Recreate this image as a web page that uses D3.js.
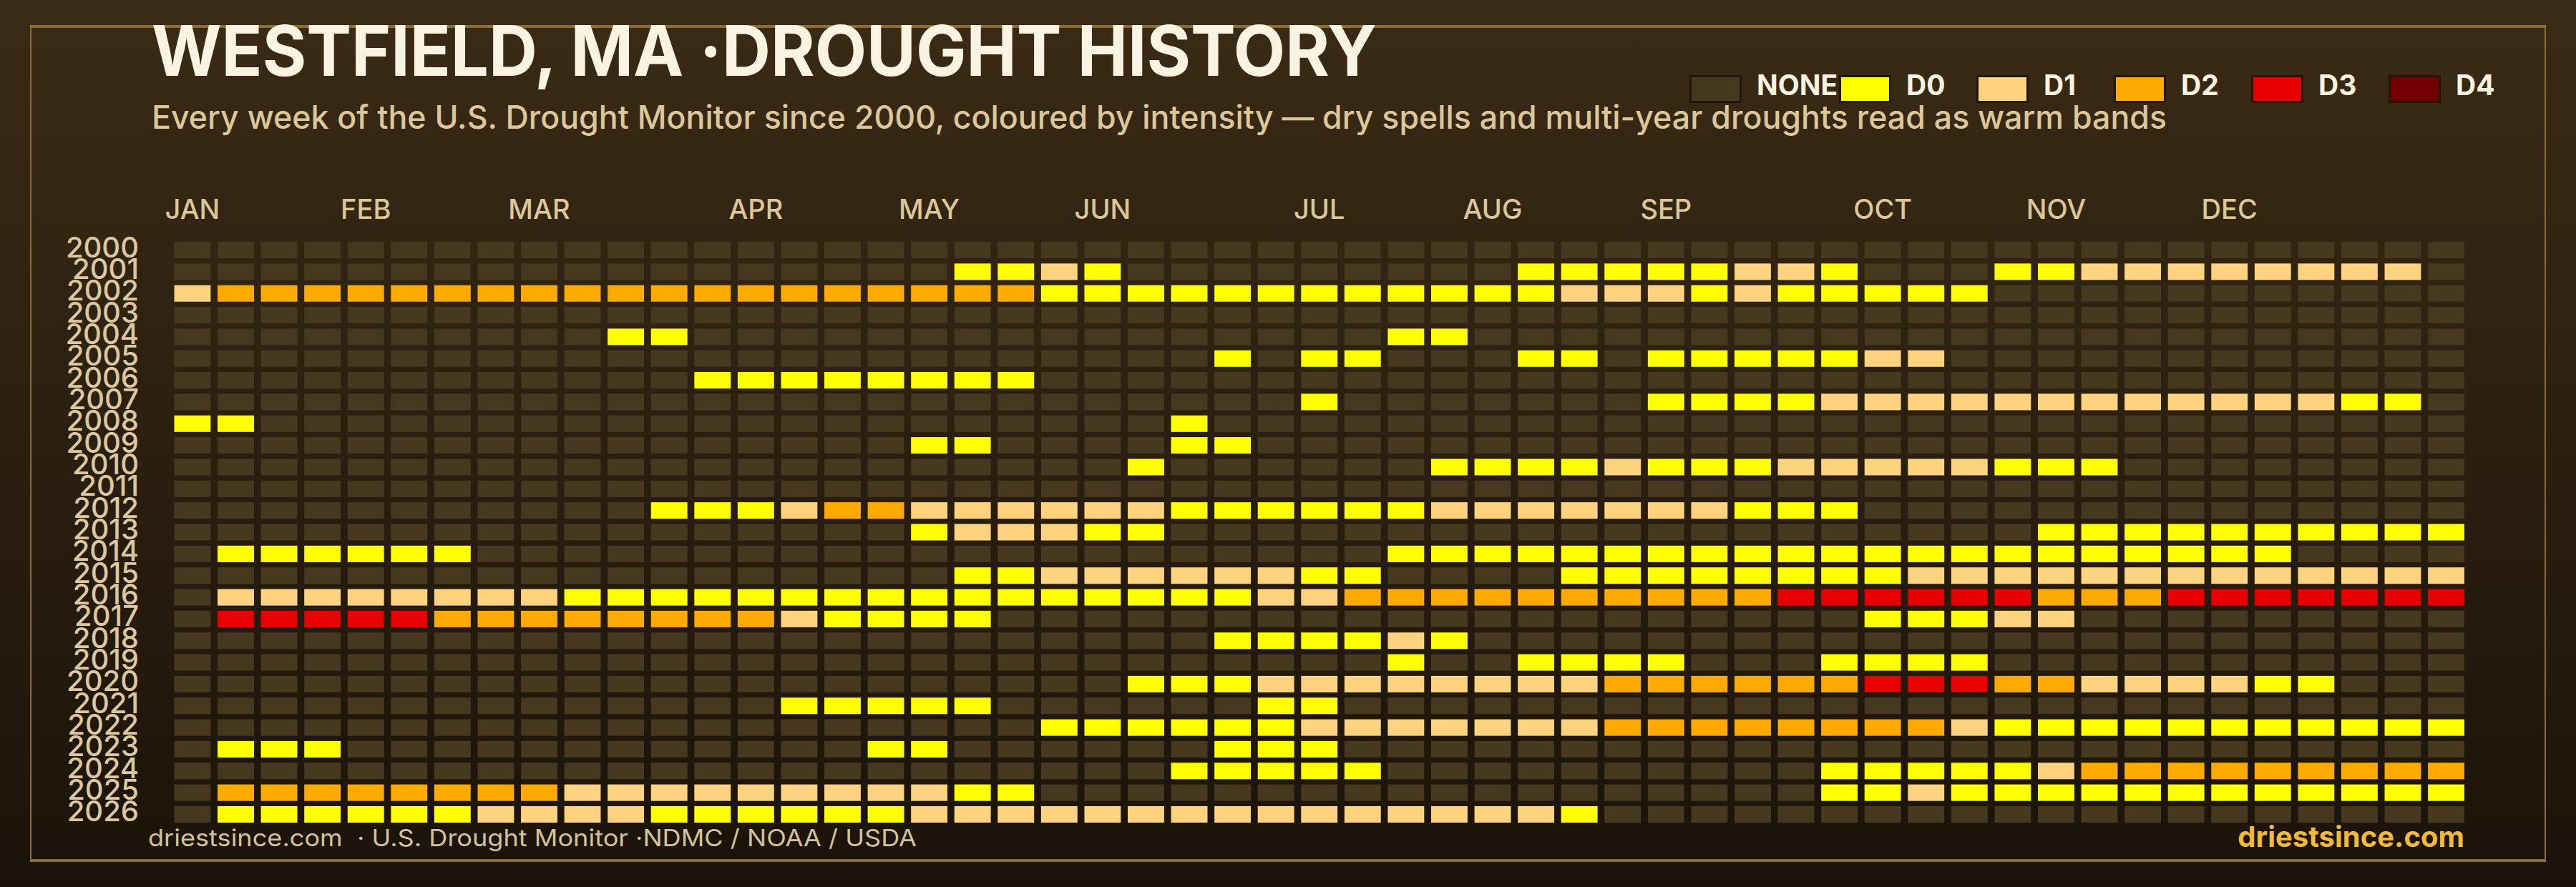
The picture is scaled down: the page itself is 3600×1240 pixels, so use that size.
<!DOCTYPE html>
<html>
<head>
<meta charset="utf-8">
<script src="https://cdn.jsdelivr.net/npm/d3@7/dist/d3.min.js"></script>
<style>
  html, body { margin: 0; padding: 0; background: #1b130a; }
  svg { display: block; }
</style>
</head>
<body>
<svg id="chart" width="3600" height="1240"></svg>
<script>
// ---------- DATA ----------
const years = ["2000","2001","2002","2003","2004","2005","2006","2007","2008","2009",
  "2010","2011","2012","2013","2014","2015","2016","2017","2018","2019",
  "2020","2021","2022","2023","2024","2025","2026"];

// one character per week (53 weeks): "." none, "0".."4" = D0..D4 (groups of 10 separated by spaces)
const weekly = [
  ".......... .......... .......... .......... .......... ...", // 2000
  ".......... ........00 10........ .00000110. ..00111111 11.", // 2001
  "1222222222 2222222222 0000000000 0011101000 00........ ...", // 2002
  ".......... .......... .......... .......... .......... ...", // 2003
  ".......... 00........ ........00 .......... .......... ...", // 2004
  ".......... .......... ....0.00.. .00.000001 1......... ...", // 2005
  ".......... ..00000000 .......... .......... .......... ...", // 2006
  ".......... .......... ......0... ....000011 1111111111 00.", // 2007
  "00........ .......... ...0...... .......... .......... ...", // 2008
  ".......... .......00. ...00..... .......... .......... ...", // 2009
  ".......... .......... ..0......0 0001000111 11000..... ...", // 2010
  ".......... .......... .......... .......... .......... ...", // 2011
  ".......... .000122111 1110000001 111111000. .......... ...", // 2012
  ".......... .......011 100....... .......... ...0000000 000", // 2013
  ".000000... .......... ........00 0000000000 000000000. ...", // 2014
  ".......... ........00 11111100.. ..00000000 1111111111 111", // 2015
  ".111111110 0000000000 0000011222 2222222333 3332223333 333", // 2016
  ".333332222 222210000. .......... .........0 0011...... ...", // 2017
  ".......... .......... ....000010 .......... .......... ...", // 2018
  ".......... .......... ........0. .0000...00 00........ ...", // 2019
  ".......... .......... ..00011111 1112222223 3322111100 ...", // 2020
  ".......... ....00000. .....00... .......... .......... ...", // 2021
  ".......... .......... 0000001111 1112222222 2100000000 000", // 2022
  ".000...... ......00.. ....000... .......... .......... ...", // 2023
  ".......... .......... ...00000.. ........00 0001222222 222", // 2024
  ".222222221 1111111100 .......... ........00 1000000000 000", // 2025
  ".000000111 1000000111 1111111111 110....... .......... ..."  // 2026
];

const monthLabels = ["JAN","FEB","MAR","APR","MAY","JUN","JUL","AUG","SEP","OCT","NOV","DEC"];
const monthWeek   = [0, 4, 8, 13, 17, 21, 26, 30, 34, 39, 43, 47];

const levelNames  = ["NONE","D0","D1","D2","D3","D4"];
const levelCodes  = [".","0","1","2","3","4"];
const levelColors = ["#47391f","#ffff00","#fdd37f","#ffaa00","#e60000","#730000"];

const titleText = "WESTFIELD, MA \u00b7DROUGHT HISTORY";
const subtitleText = "Every week of the U.S. Drought Monitor since 2000, coloured by intensity \u2014 dry spells and multi-year droughts read as warm bands";
const sourceText = "driestsince.com  \u00b7 U.S. Drought Monitor \u00b7NDMC / NOAA / USDA";
const brandText = "driestsince.com";

// ---------- BUILD ----------
const cells = [];
years.forEach((yr, r) => {
  const s = weekly[r].replace(/ /g, "");
  for (let w = 0; w < s.length; w++) cells.push({ year: yr, week: w, code: s[w] });
});
const weeks = d3.range(53);

const svg = d3.select("#chart");
const W = 3600, H = 1240;
const FONT = "Inter, 'Open Sans', 'DejaVu Sans', sans-serif";

const defs = svg.append("defs");
const grad = defs.append("linearGradient").attr("id", "bg").attr("x1", 0).attr("y1", 0).attr("x2", 0).attr("y2", 1);
grad.append("stop").attr("offset", "0%").attr("stop-color", "#3a2b15");
grad.append("stop").attr("offset", "100%").attr("stop-color", "#1b130a");
svg.append("rect").attr("width", W).attr("height", H).attr("fill", "url(#bg)");

// frame
const frameColor = "#8b6d36";
svg.append("rect").attr("x", 43).attr("y", 37).attr("width", 3514).attr("height", 1166)
  .attr("fill", "none").attr("stroke", frameColor).attr("stroke-width", 2);
svg.append("rect").attr("x", 42).attr("y", 35).attr("width", 3516).attr("height", 4).attr("fill", frameColor);
svg.append("rect").attr("x", 42).attr("y", 1201).attr("width", 3516).attr("height", 4).attr("fill", frameColor);

// scales
const x = d3.scaleBand().domain(weeks).range([243.5, 3444]).paddingInner(0.16).paddingOuter(0);
const y = d3.scaleBand().domain(years).range([338, 1150]).paddingInner(0.24).paddingOuter(0);
const color = d3.scaleOrdinal().domain(levelCodes).range(levelColors);

// cells
svg.append("g").selectAll("rect").data(cells).join("rect")
  .attr("x", d => x(d.week))
  .attr("y", d => y(d.year))
  .attr("width", x.bandwidth())
  .attr("height", y.bandwidth())
  .attr("fill", d => color(d.code));

// month axis
const monthAxis = d3.axisTop(x)
  .tickValues(monthWeek)
  .tickFormat(w => monthLabels[monthWeek.indexOf(w)])
  .tickSize(0).tickPadding(0);
const gm = svg.append("g").attr("transform", "translate(0,306)").call(monthAxis);
gm.select(".domain").remove();
gm.selectAll("text").attr("font-family", FONT).attr("font-size", 38).attr("font-weight", 500)
  .attr("fill", "#dcc79b").attr("dy", "0em");

// year axis
const yearAxis = d3.axisLeft(y).tickSize(0).tickPadding(49.5);
const gy = svg.append("g").attr("transform", "translate(243.5,0)").call(yearAxis);
gy.select(".domain").remove();
gy.selectAll("text").attr("font-family", FONT).attr("font-size", 40).attr("font-weight", 500)
  .attr("fill", "#dcc8a0").attr("dy", "0.25em");

// title & subtitle
svg.append("text").attr("x", 212).attr("y", 106).text(titleText)
  .attr("font-family", FONT).attr("font-size", 98).attr("font-weight", 700)
  .attr("fill", "#fbf3e1").attr("textLength", 1712).attr("lengthAdjust", "spacingAndGlyphs");
svg.append("text").attr("x", 212).attr("y", 180).text(subtitleText)
  .attr("font-family", FONT).attr("font-size", 45).attr("font-weight", 500)
  .attr("fill", "#dcc79b").attr("textLength", 2816).attr("lengthAdjust", "spacingAndGlyphs");

// legend
const legendX = levelNames.map((n, i) => 2361 + (i > 0 ? 209 + (i - 1) * 192 : 0));
const lg = svg.append("g");
const li = lg.selectAll("g").data(levelNames).join("g")
  .attr("transform", (d, i) => `translate(${legendX[i]},0)`);
li.append("rect").attr("x", 1.5).attr("y", 106.5).attr("width", 70).attr("height", 36)
  .attr("fill", (d, i) => levelColors[i]).attr("stroke", "#1f170b").attr("stroke-width", 3);
li.append("text").attr("x", 94).attr("y", 133).text(d => d)
  .attr("font-family", FONT).attr("font-size", 39).attr("font-weight", 700).attr("fill", "#fbf3e1");

// footer
svg.append("text").attr("x", 207).attr("y", 1183).text(sourceText)
  .style("white-space", "pre")
  .attr("font-family", FONT).attr("font-size", 33).attr("font-weight", 400)
  .attr("fill", "#d4c29a").attr("textLength", 1074).attr("lengthAdjust", "spacingAndGlyphs");
svg.append("text").attr("x", 3444).attr("y", 1184).attr("text-anchor", "end").text(brandText)
  .attr("font-family", FONT).attr("font-size", 40).attr("font-weight", 700).attr("fill", "#f2b93b");
</script>
</body>
</html>
